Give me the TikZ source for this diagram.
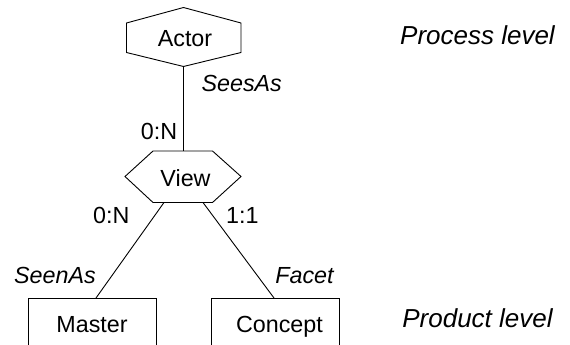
\documentclass[tikz,border=0pt]{standalone}
\usepackage{fontspec}
\setmainfont{Liberation Sans}
\begin{document}
\begin{tikzpicture}[x=1pt,y=-1pt,line width=0.9pt,line join=miter,
  txt/.style={inner sep=0pt,anchor=base,font=\fontsize{23.3}{27}\selectfont},
  itxt/.style={inner sep=0pt,anchor=base,font=\fontsize{23.3}{27}\selectfont\itshape},
  lvl/.style={inner sep=0pt,anchor=base,font=\fontsize{26}{30}\selectfont\itshape}]
\useasboundingbox (0,0) rectangle (570,345);
% Actor hexagon
\node[txt] (actor) at (185,46.7) {Actor};
\coordinate (actortop) at (183.5,7.5);
\coordinate (actorbot) at (183.5,66.5);
\draw (126.5,23) -- (actortop) -- (241,23) -- (241,52.5) -- (actorbot) -- (126.5,52.5) -- cycle;
% View hexagon
\node[txt] (view) at (185.5,186.7) {View};
\coordinate (viewtop) at (183.5,151);
\coordinate (viewbl) at (164,202.5);
\coordinate (viewbr) at (203,202.5);
\draw (153,151) -- (212.5,151) -- (241,176.5) -- (212.5,202.5) -- (153,202.5) -- (125,176.5) -- cycle;
% Master box (open at bottom)
\node[txt] (master) at (92,332.7) {Master};
\coordinate (mastertop) at (96,298);
\draw (28.5,350) -- (28.5,298) -- (156.5,298) -- (156.5,350);
% Concept box
\node[txt] (concept) at (279.5,332.7) {Concept};
\coordinate (concepttop) at (274,298);
\draw (211.5,350) -- (211.5,298) -- (339.5,298) -- (339.5,350);
% connectors
\draw (actorbot) -- (viewtop);
\draw (viewbl) -- (mastertop);
\draw (viewbr) -- (concepttop);
% labels
\node[itxt] (seesas) at (241.7,91.7) {SeesAs};
\node[txt] (card1) at (159,139.3) {0:N};
\node[txt] (card2) at (111.3,223.3) {0:N};
\node[txt] (card3) at (242.3,223.3) {1:1};
\node[itxt] (seenas) at (55,283.3) {SeenAs};
\node[itxt] (facet) at (304.5,283.3) {Facet};
\node[lvl] (proc) at (477.5,45) {Process level};
\node[lvl] (prod) at (477.5,327.5) {Product level};
\end{tikzpicture}
\end{document}
